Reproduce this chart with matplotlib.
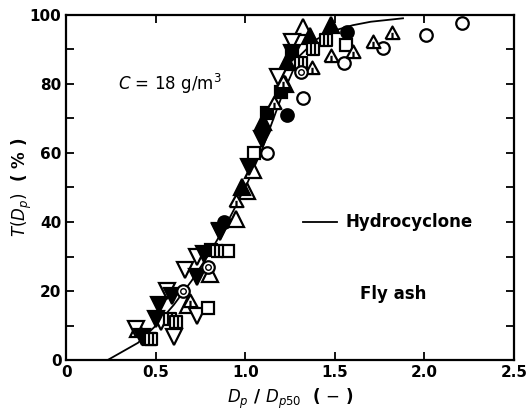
import numpy as np
import matplotlib
matplotlib.use('Agg')
import matplotlib.pyplot as plt
from matplotlib.path import Path

# hydrocyclone curve
curve_x = [0.23, 0.4, 0.5, 0.6, 0.7, 0.8, 0.9, 1.0, 1.1, 1.2, 1.3, 1.4, 1.5, 1.6, 1.7, 1.88]
curve_y = [0, 5, 10, 16, 23, 31, 40, 50, 62, 76, 88, 93, 95.5, 97, 98, 99]

# measured points, one list per symbol
open_circle_x = [1.12, 1.32, 1.55, 1.77, 2.01, 2.21]
open_circle_y = [60, 76, 86, 90.5, 94.2, 97.7]
filled_circle_x = [0.88, 1.23, 1.57]
filled_circle_y = [40, 71, 95]
open_up_x = [0.40, 0.68, 0.80, 0.95, 1.01, 1.04, 1.32]
open_up_y = [9, 16, 25, 41, 49, 55, 96.5]
filled_up_x = [0.98, 1.10, 1.22, 1.23, 1.36, 1.48]
filled_up_y = [50, 69, 80, 86.4, 94, 97]
open_down_x = [0.39, 0.53, 0.60, 0.73, 0.56, 0.66, 0.73, 0.86, 1.18, 1.26]
open_down_y = [9, 11, 6.6, 12.7, 20, 26, 30, 37.5, 82, 92]
filled_down_x = [0.42, 0.50, 0.52, 0.59, 0.73, 0.77, 0.86, 1.02, 1.09, 1.26]
filled_down_y = [6.6, 12, 16, 18.5, 24, 30.6, 37, 56, 64, 89]
open_square_x = [0.46, 0.79, 0.90, 1.05, 1.56]
open_square_y = [6, 15, 31.5, 60, 91.3]
filled_square_x = [0.81, 1.12, 1.20, 1.26]
filled_square_y = [32, 71.7, 77.7, 89]
tick_square_x = [0.47, 0.58, 0.61, 0.84, 1.31, 1.38, 1.45]
tick_square_y = [6, 12, 11, 31.5, 86, 90, 92.8]
tick_tri_x = [0.69, 0.95, 1.16, 1.21, 1.37, 1.48, 1.60, 1.71, 1.82]
tick_tri_y = [17, 46, 74.6, 80.6, 84.7, 88, 89.3, 92, 94.8]
dot_circle_x = [0.65, 0.79, 1.31]
dot_circle_y = [20, 27, 83.5]

M, L = Path.MOVETO, Path.LINETO
sq_ticks = Path([(-1, -1), (1, -1), (1, 1), (-1, 1), (-1, -1),
                 (-0.3, -1), (-0.3, 1), (0.3, -1), (0.3, 1)],
                [M, L, L, L, L, M, L, M, L])
tri_tick = Path([(-1, -0.8), (1, -0.8), (0, 1), (-1, -0.8), (0, -0.8), (0, 0.1)],
                [M, L, L, L, M, L])

plt.rcParams['font.family'] = 'DejaVu Sans'
fig = plt.figure(figsize=(5.31, 4.12), dpi=100)
ax = fig.add_axes([0.125, 0.126, 0.843, 0.838])

ax.plot(curve_x, curve_y, 'k-', lw=1.3, zorder=1)

ms = 9
kw = dict(ls='none', mec='k', mew=1.6, zorder=3)
ax.plot(open_circle_x, open_circle_y, marker='o', mfc='white', ms=ms, **kw)
ax.plot(filled_circle_x, filled_circle_y, marker='o', mfc='k', ms=ms, **kw)
ax.plot(open_up_x, open_up_y, marker='^', mfc='white', ms=ms + 2, **kw)
ax.plot(filled_up_x, filled_up_y, marker='^', mfc='k', ms=ms + 2, **kw)
ax.plot(open_down_x, open_down_y, marker='v', mfc='white', ms=ms + 2, **kw)
ax.plot(filled_down_x, filled_down_y, marker='v', mfc='k', ms=ms + 2, **kw)
ax.plot(open_square_x, open_square_y, marker='s', mfc='white', ms=ms, **kw)
ax.plot(filled_square_x, filled_square_y, marker='s', mfc='k', ms=ms, **kw)
ax.plot(tick_square_x, tick_square_y, marker=sq_ticks, mfc='white', ms=ms, **kw)
ax.plot(tick_tri_x, tick_tri_y, marker=tri_tick, mfc='white', ms=ms + 1, **kw)
ax.plot(dot_circle_x, dot_circle_y, marker='o', mfc='white', ms=ms, **kw)
ax.plot(dot_circle_x, dot_circle_y, marker='o', mfc='white', ms=4, ls='none', mec='k', mew=1.0, zorder=4)

ax.set_xlim(0, 2.5)
ax.set_ylim(0, 100)
ax.set_xticks([0, 0.5, 1.0, 1.5, 2.0, 2.5])
ax.set_xticklabels(['0', '0.5', '1.0', '1.5', '2.0', '2.5'])
ax.set_yticks(np.arange(0, 101, 10))
ax.set_yticklabels([str(v) if v % 20 == 0 else '' for v in range(0, 101, 10)])
ax.tick_params(direction='in', top=True, right=True, length=6, width=1.3,
               labelsize=11)
for lab in ax.get_xticklabels() + ax.get_yticklabels():
    lab.set_fontweight('bold')
for s in ax.spines.values():
    s.set_linewidth(1.6)

ax.set_xlabel(r'$D_p$ / $D_{p50}$  ( $-$ )', fontsize=12, fontweight='bold', labelpad=5)
ax.set_ylabel(r'$T(D_p)$  ( % )', fontsize=12, fontweight='bold', labelpad=-3)

ax.text(0.29, 80, r'$C$ = 18 g/m$^3$', fontsize=12, va='center')
ax.plot([1.32, 1.51], [40, 40], 'k-', lw=1.3)
ax.text(1.56, 40, 'Hydrocyclone', fontsize=12, va='center', fontweight='bold')
ax.text(1.64, 19, 'Fly ash', fontsize=12, va='center', fontweight='bold')

plt.savefig('out.png', dpi=100)
